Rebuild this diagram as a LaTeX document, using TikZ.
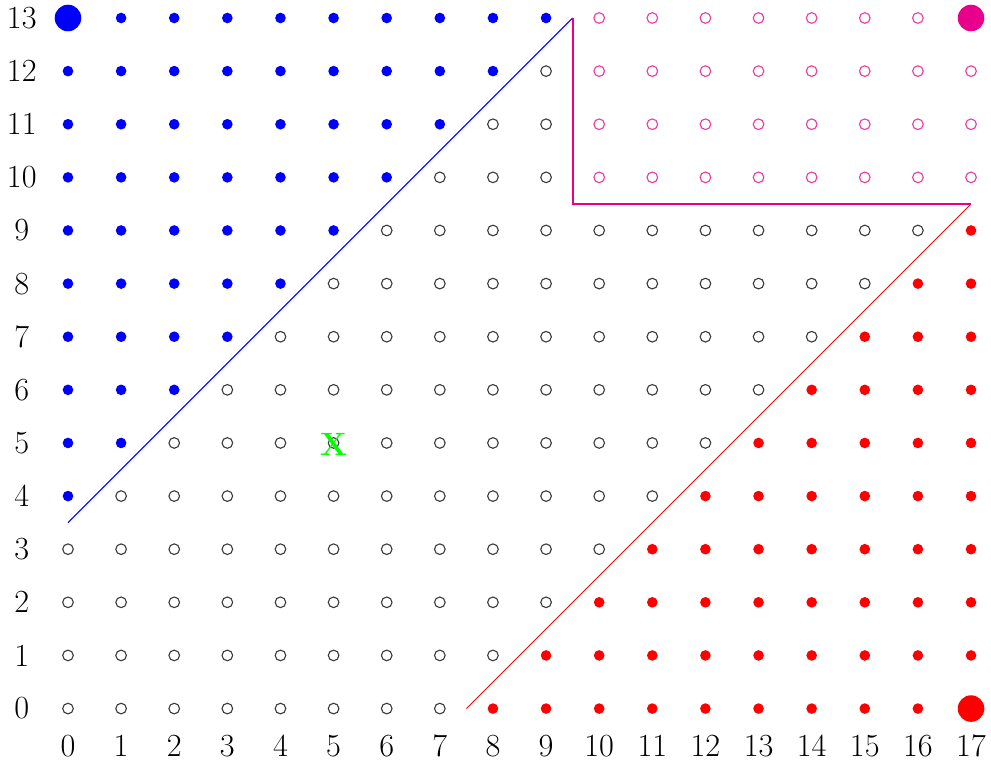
\documentclass[tikz,border=0pt]{standalone}
\definecolor{mypink}{RGB}{232,0,140}
\definecolor{mypinklight}{RGB}{236,60,160}
\definecolor{mygray}{RGB}{60,60,60}
\begin{document}
\begin{tikzpicture}[x=1cm,y=1cm,
  hollow/.style={circle,draw=mygray,line width=0.6pt,inner sep=0pt,minimum size=0.2cm},
  hollowpink/.style={circle,draw=mypinklight,line width=0.6pt,inner sep=0pt,minimum size=0.2cm},
  bluedot/.style={circle,fill=blue,inner sep=0pt,minimum size=0.2cm},
  reddot/.style={circle,fill=red,inner sep=0pt,minimum size=0.2cm},
  bigdot/.style={circle,inner sep=0pt,minimum size=0.5cm},
  axlabel/.style={font=\LARGE,inner sep=0pt}]
\useasboundingbox (-1.28,-1.0) rectangle (17.376,13.339);
% axis labels
\foreach \i in {0,...,13} \node[axlabel] (yl\i) at (-0.87,\i) {\i};
\foreach \i in {0,...,17} \node[axlabel] (xl\i) at (\i,-0.70) {\i};
% grid points
\foreach \x in {0,...,17} {
  \foreach \y in {0,...,13} {
    \pgfmathtruncatemacro{\d}{\y-\x}
    \pgfmathtruncatemacro{\pinkzone}{(\x>=10)&&(\y>=10)}
    \ifnum\pinkzone=1
      \node[hollowpink] (p\x-\y) at (\x,\y) {};
    \else
      \ifnum\d>3
        \node[bluedot] (p\x-\y) at (\x,\y) {};
      \else
        \ifnum\d<-7
          \node[reddot] (p\x-\y) at (\x,\y) {};
        \else
          \node[hollow] (p\x-\y) at (\x,\y) {};
        \fi
      \fi
    \fi
  }
}
% large corner dots
\node[bigdot,fill=blue] (bigblue) at (0,13) {};
\node[bigdot,fill=red] (bigred) at (17,0) {};
\node[bigdot,fill=mypink] (bigpink) at (17,13) {};
% lines
\coordinate (b1) at (0,3.5);
\coordinate (b2) at (9.5,13);
\coordinate (r1) at (7.5,0);
\coordinate (r2) at (17,9.5);
\coordinate (m1) at (9.5,9.5);
\draw[blue,line width=0.5pt] (b1) -- (b2);
\draw[red,line width=0.5pt] (r1) -- (r2);
\draw[mypink,line width=1.1pt] (b2) -- (m1) -- (r2);
% green mark
\node[text=green,font=\LARGE\bfseries,inner sep=0pt] (xmark) at (5,4.97) {X};
\end{tikzpicture}
\end{document}
